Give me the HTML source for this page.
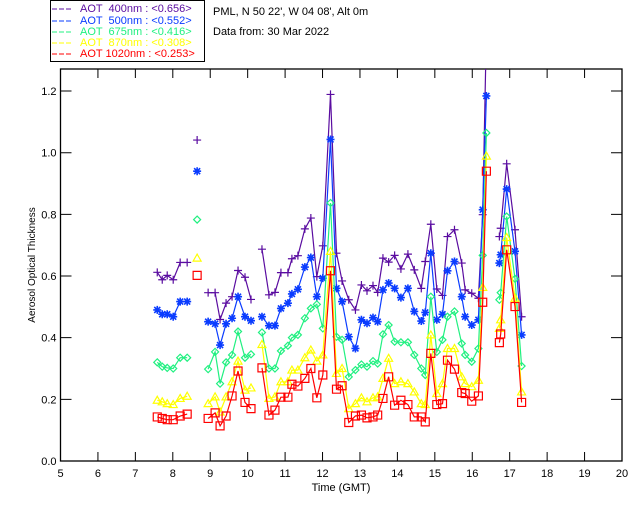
<!DOCTYPE html>
<html><head><meta charset="utf-8"><style>
body{margin:0;background:#fff;width:640px;height:512px;overflow:hidden}
svg{font-family:"Liberation Sans",sans-serif}
</style></head><body>
<svg id="chart" width="640" height="512" xmlns="http://www.w3.org/2000/svg">
<rect x="50.5" y="0.5" width="154" height="61" fill="#fff" stroke="#000"/>
<g font-size="11">
<g><line x1="52" y1="9" x2="72" y2="9" stroke="#5a0ca0" stroke-dasharray="5,2"/><text x="80" y="12" fill="#5a0ca0" xml:space="preserve">AOT  400nm : &lt;0.656&gt;</text></g>
<g><line x1="52" y1="21" x2="72" y2="21" stroke="#0a3cff" stroke-dasharray="5,2"/><text x="80" y="24" fill="#0a3cff" xml:space="preserve">AOT  500nm : &lt;0.552&gt;</text></g>
<g><line x1="52" y1="32" x2="72" y2="32" stroke="#20f080" stroke-dasharray="5,2"/><text x="80" y="35" fill="#20f080" xml:space="preserve">AOT  675nm : &lt;0.416&gt;</text></g>
<g><line x1="52" y1="43" x2="72" y2="43" stroke="#ffff00" stroke-dasharray="5,2"/><text x="80" y="46" fill="#ffff00" xml:space="preserve">AOT  870nm : &lt;0.308&gt;</text></g>
<g><line x1="52" y1="54" x2="72" y2="54" stroke="#ff0000" stroke-dasharray="5,2"/><text x="80" y="57" fill="#ff0000" xml:space="preserve">AOT 1020nm : &lt;0.253&gt;</text></g>
</g>
<text x="213" y="15" font-size="11">PML, N 50 22', W 04 08', Alt 0m</text>
<text x="213" y="35" font-size="11">Data from: 30 Mar 2022</text>
<text x="341" y="491" font-size="11" text-anchor="middle">Time (GMT)</text>
<text transform="translate(35,265) rotate(-90)" font-size="10" text-anchor="middle">Aerosol Optical Thickness</text>
<defs><clipPath id="pc"><rect x="60.5" y="69" width="561.5" height="392"/></clipPath></defs>
<g id="axes"></g>
<g id="series" clip-path="url(#pc)"></g>
</svg>
<script>
const times=[7.585,7.718,7.851,8.011,8.197,8.384, 8.650,
8.944,9.130,9.263,9.423,9.583,9.743,9.929,10.089,
10.382,10.569,10.729,10.889,11.075,11.182,11.342,11.528,11.688,11.848,12.008,12.213,12.373,12.522,12.701,12.879,13.039,13.188,13.348,13.473,13.614,13.766,13.926,14.094,14.281,14.451,14.638,14.744,14.893,15.053,15.205,15.338,15.525,15.719,15.810,15.986,16.164,16.279,16.377,
16.724,16.759,16.919,17.142,17.318];
const groups=[0,0,0,0,0,0,1,2,2,2,2,2,2,2,2,
3,3,3,3,3,3,3,3,3,3,3,3,3,3,3,3,3,3,3,3,3,3,3,3,3,3,3,3,3,3,3,3,3,3,3,3,3,3,3,
4,4,4,4,4];
const aot400=[0.612,0.588,0.602,0.588,0.644,0.644,1.041,
0.546,0.546,0.459,0.512,0.533,0.618,0.596,0.524,
0.687,0.539,0.547,0.611,0.611,0.656,0.666,0.753,0.788,0.598,0.698,1.189,0.674,0.584,0.523,0.490,0.571,0.552,0.569,0.547,0.658,0.645,0.667,0.623,0.671,0.620,0.560,0.647,0.768,0.558,0.537,0.728,0.750,0.642,0.555,0.544,0.528,0.799,1.400,
0.728,0.755,0.964,0.750,0.468];
const aot500=[0.490,0.476,0.476,0.468,0.517,0.517,0.940,
0.452,0.445,0.376,0.445,0.463,0.533,0.468,0.455,
0.468,0.439,0.439,0.495,0.512,0.542,0.557,0.629,0.660,0.533,0.593,1.043,0.560,0.517,0.403,0.365,0.458,0.447,0.465,0.452,0.555,0.577,0.560,0.530,0.560,0.485,0.454,0.482,0.674,0.458,0.476,0.617,0.647,0.533,0.468,0.441,0.458,0.815,1.184,
0.642,0.669,0.882,0.680,0.409];
const aot675=[0.320,0.306,0.302,0.300,0.335,0.335,0.783,
0.298,0.354,0.251,0.320,0.344,0.420,0.335,0.346,
0.417,0.300,0.300,0.357,0.374,0.400,0.409,0.463,0.495,0.508,0.430,0.837,0.403,0.393,0.273,0.295,0.313,0.306,0.324,0.316,0.411,0.441,0.387,0.385,0.385,0.344,0.300,0.279,0.533,0.354,0.393,0.468,0.485,0.381,0.344,0.322,0.365,0.667,1.064,
0.523,0.546,0.793,0.591,0.308];
const aot870=[0.197,0.192,0.186,0.183,0.203,0.210,0.658,
0.186,0.208,0.159,0.208,0.257,0.324,0.230,0.237,
0.378,0.203,0.208,0.257,0.257,0.295,0.295,0.335,0.360,0.324,0.344,0.680,0.284,0.300,0.170,0.186,0.205,0.192,0.205,0.208,0.268,0.333,0.251,0.257,0.251,0.224,0.186,0.183,0.409,0.219,0.251,0.365,0.365,0.273,0.251,0.241,0.262,0.563,0.989,
0.430,0.458,0.725,0.528,0.224];
const aot1020=[0.143,0.138,0.134,0.134,0.146,0.152,0.602,
0.138,0.156,0.114,0.146,0.211,0.292,0.190,0.170,
0.302,0.149,0.165,0.207,0.207,0.249,0.243,0.268,0.300,0.205,0.279,0.617,0.233,0.244,0.125,0.146,0.149,0.140,0.143,0.149,0.203,0.273,0.181,0.197,0.183,0.143,0.143,0.127,0.349,0.183,0.186,0.327,0.298,0.222,0.219,0.194,0.211,0.515,0.940,
0.384,0.412,0.685,0.501,0.190];
const xTicks=[5,6,7,8,9,10,11,12,13,14,15,16,17,18,19,20];
const yTicks=[0.0,0.2,0.4,0.6,0.8,1.0,1.2];

const NS='http://www.w3.org/2000/svg';
const X0=60.5,X1=622,Y0=461,YT=69;
function xs(t){return X0+(t-5)*(X1-X0)/15;}
function ys(v){return Y0-v*308.3;}
function mk(tag,attrs,parent){const e=document.createElementNS(NS,tag);for(const k in attrs)e.setAttribute(k,attrs[k]);parent.appendChild(e);return e;}

const axes=document.getElementById('axes');
const frame=mk('rect',{x:X0,y:YT,width:X1-X0,height:Y0-YT,fill:'none',stroke:'#000','stroke-width':1.3},axes);


xTicks.forEach(t=>{
  const x=xs(t);
  const tk=mk('path',{d:`M${x},${Y0}V${Y0-9}M${x},${YT}V${YT+9}`,stroke:'#000','stroke-width':1},axes);
  
  
  const lb=mk('text',{x:x,y:Y0+16,'font-size':11,'text-anchor':'middle'},axes);
  lb.textContent=String(t);
  
  
});
yTicks.forEach(v=>{
  const y=ys(v);
  const tk=mk('path',{d:`M${X0},${y}H${X0+11}M${X1},${y}H${X1-11}`,stroke:'#000','stroke-width':1},axes);
  
  
  const lb=mk('text',{x:X0-4,y:y+4,'font-size':11,'text-anchor':'end'},axes);
  lb.textContent=v.toFixed(1);
  
  
});

const seriesG=document.getElementById('series');
const specs=[
 {vals:aot400,color:'#5a0ca0',m:'plus',name:'series-400nm'},
 {vals:aot500,color:'#0a3cff',m:'star',name:'series-500nm'},
 {vals:aot675,color:'#20f080',m:'diamond',name:'series-675nm'},
 {vals:aot870,color:'#ffff00',m:'tri',name:'series-870nm'},
 {vals:aot1020,color:'#ff0000',m:'square',name:'series-1020nm'}
];
function marker(type,x,y,c,g){
  let d;
  if(type==='plus')d=`M${x-4},${y}H${x+4}M${x},${y-4}V${y+4}`;
  else if(type==='star')d=`M${x-4},${y}H${x+4}M${x},${y-4}V${y+4}M${x-3},${y-3}L${x+3},${y+3}M${x-3},${y+3}L${x+3},${y-3}`;
  else if(type==='diamond')d=`M${x},${y-3.5}L${x+3.5},${y}L${x},${y+3.5}L${x-3.5},${y}Z`;
  else if(type==='tri')d=`M${x},${y-4}L${x+4},${y+3}L${x-4},${y+3}Z`;
  else d=`M${x-4},${y-4}H${x+4}V${y+4}H${x-4}Z`;
  const p=mk('path',{d:d,fill:'none',stroke:c,'stroke-width':type==='star'?1.6:1.2},g);
  
  
}
specs.forEach(s=>{
  const g=mk('g',{},seriesG);
  
  
  let d='',prev=null;
  times.forEach((t,i)=>{
    const x=xs(t),y=ys(s.vals[i]);
    d+=(prev===groups[i]?'L':'M')+x.toFixed(1)+','+y.toFixed(1);
    prev=groups[i];
  });
  const ln=mk('path',{d:d,fill:'none',stroke:s.color,'stroke-width':1.2},g);
  
  
  times.forEach((t,i)=>marker(s.m,xs(t),ys(s.vals[i]),s.color,g));
});
</script>
</body></html>
